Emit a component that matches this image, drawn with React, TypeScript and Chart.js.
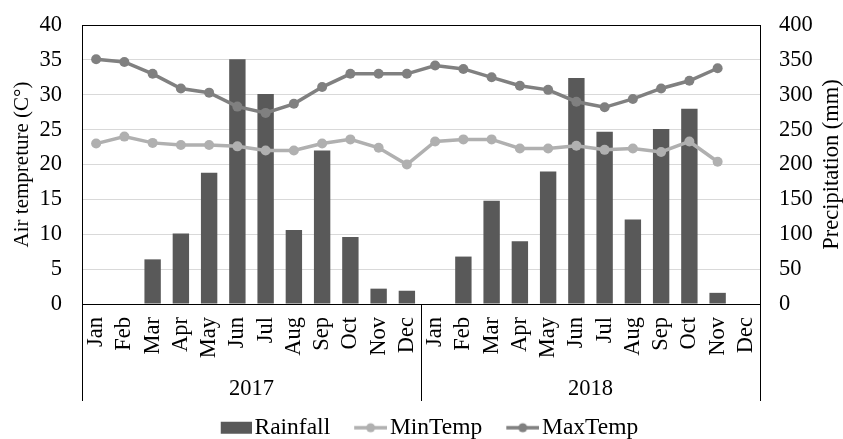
import React, { useEffect, useRef } from "react";
import { Chart, registerables } from "chart.js";

Chart.register(...registerables);

const months = ["Jan", "Feb", "Mar", "Apr", "May", "Jun", "Jul", "Aug", "Sep", "Oct", "Nov", "Dec"];
const years = ["2017", "2018"];
const categories = [...months, ...months];

const rainfall = [0, 0, 64, 101, 188, 351, 301, 106, 220, 96, 22, 19, 0, 68, 148, 90, 190, 324, 247, 121, 251, 280, 16, null];
const minTemp = [23, 24, 23.1, 22.8, 22.8, 22.6, 22, 22, 23, 23.6, 22.4, 20, 23.3, 23.6, 23.6, 22.3, 22.3, 22.7, 22.1, 22.3, 21.8, 23.3, 20.4, null];
const maxTemp = [35.1, 34.7, 33, 30.9, 30.3, 28.3, 27.4, 28.7, 31.1, 33, 33, 33, 34.2, 33.7, 32.5, 31.3, 30.7, 29, 28.2, 29.4, 30.9, 32, 33.8, null];

const tempTicks = { min: 0, max: 40, step: 5 };
const rainTicks = { min: 0, max: 400, step: 50 };

const BAR = "#595959";
const MIN_C = "#b0b0b0";
const MAX_C = "#808080";
const FONT = "'Liberation Serif', 'Times New Roman', serif";

const LEG_BOX = 48;

function makeMarker(kind: "bar" | "line", color: string): HTMLCanvasElement {
  const W = LEG_BOX + 18;
  const H = 16;
  const c = document.createElement("canvas");
  c.width = W;
  c.height = H;
  const ctx = c.getContext("2d")!;
  const end = W;
  if (kind === "bar") {
    ctx.fillStyle = color;
    ctx.fillRect(end - 31, 2, 31, 12);
  } else {
    ctx.strokeStyle = color;
    ctx.lineWidth = 3.5;
    ctx.beginPath();
    ctx.moveTo(end - 33, H / 2);
    ctx.lineTo(end, H / 2);
    ctx.stroke();
    ctx.fillStyle = color;
    ctx.beginPath();
    ctx.arc(end - 16.5, H / 2, 4.5, 0, Math.PI * 2);
    ctx.fill();
  }
  return c;
}

const decorPlugin = {
  id: "decor",
  afterLayout(chart: any) {
    if (chart.legend) {
      chart.legend.left -= 5;
      chart.legend.right -= 5;
    }
  },
  afterDraw(chart: any) {
    const { ctx, chartArea } = chart;
    const x = chart.scales.x;
    ctx.save();
    // plot box
    ctx.strokeStyle = "#000";
    ctx.lineWidth = 1;
    ctx.strokeRect(
      Math.round(chartArea.left) + 0.5,
      Math.round(chartArea.top) + 0.5,
      Math.round(chartArea.right - chartArea.left),
      Math.round(chartArea.bottom - chartArea.top)
    );
    // year separators
    const sepBottom = 401;
    const mid = (x.getPixelForValue(11) + x.getPixelForValue(12)) / 2;
    const seps = [chartArea.left, mid, chartArea.right];
    ctx.beginPath();
    seps.forEach((sx: number) => {
      const px = Math.round(sx) + 0.5;
      ctx.moveTo(px, chartArea.bottom);
      ctx.lineTo(px, sepBottom);
    });
    ctx.stroke();
    // year labels
    ctx.fillStyle = "#000";
    ctx.font = `22.5px ${FONT}`;
    ctx.textAlign = "center";
    ctx.textBaseline = "middle";
    ctx.fillText(years[0], (seps[0] + seps[1]) / 2, 389);
    ctx.fillText(years[1], (seps[1] + seps[2]) / 2, 389);
    // right axis title (reads bottom to top)
    ctx.translate(832, (chartArea.top + chartArea.bottom) / 2);
    ctx.rotate(-Math.PI / 2);
    ctx.fillText("Precipitation (mm)", 0, 0);
    ctx.restore();
  },
};

export default function App() {
  const ref = useRef<HTMLCanvasElement | null>(null);

  useEffect(() => {
    if (!ref.current) return;
    const markers = [
      makeMarker("bar", BAR),
      makeMarker("line", MIN_C),
      makeMarker("line", MAX_C),
    ];
    const chart = new Chart(ref.current, {
      type: "bar",
      data: {
        labels: categories,
        datasets: [
          {
            type: "bar",
            label: "Rainfall",
            data: rainfall,
            backgroundColor: BAR,
            yAxisID: "y2",
            order: 2,
            categoryPercentage: 1,
            barPercentage: 0.58,
          },
          {
            type: "line",
            label: "MinTemp",
            data: minTemp,
            borderColor: MIN_C,
            backgroundColor: MIN_C,
            borderWidth: 3.5,
            pointRadius: 5,
            pointBackgroundColor: MIN_C,
            pointBorderWidth: 0,
            yAxisID: "y",
            order: 1,
          },
          {
            type: "line",
            label: "MaxTemp",
            data: maxTemp,
            borderColor: MAX_C,
            backgroundColor: MAX_C,
            borderWidth: 3.5,
            pointRadius: 5,
            pointBackgroundColor: MAX_C,
            pointBorderWidth: 0,
            yAxisID: "y",
            order: 0,
          },
        ] as any,
      },
      options: {
        responsive: false,
        animation: false,
        devicePixelRatio: 1,
        layout: { padding: { top: 25, left: 0, right: 0, bottom: -10.5 } },
        plugins: {
          tooltip: { enabled: false },
          legend: {
            position: "bottom",
            labels: {
              usePointStyle: true,
              pointStyleWidth: LEG_BOX,
              padding: 0,
              color: "#000",
              font: { family: FONT, size: 23.5 },
              sort: (a: any, b: any) => a.datasetIndex - b.datasetIndex,
              generateLabels: (chart: any) =>
                chart.data.datasets.map((ds: any, i: number) => ({
                  text: ds.label,
                  datasetIndex: i,
                  pointStyle: markers[i],
                  fillStyle: "transparent",
                  strokeStyle: "transparent",
                  lineWidth: 0,
                  hidden: false,
                  fontColor: "#000",
                })),
            },
          },
        },
        scales: {
          x: {
            type: "category",
            grid: { display: false, drawTicks: false },
            border: { display: false },
            ticks: {
              autoSkip: false,
              minRotation: 90,
              maxRotation: 90,
              padding: 13,
              color: "#000",
              font: { family: FONT, size: 22.5 },
            },
            afterFit: (s: any) => {
              s.height = 112;
            },
          },
          y: {
            position: "left",
            min: tempTicks.min,
            max: tempTicks.max,
            grid: {
              color: "#d9d9d9",
              lineWidth: 1,
              drawTicks: true,
              tickLength: 20,
              tickColor: "rgba(0,0,0,0)",
            },
            border: { display: false },
            ticks: {
              stepSize: tempTicks.step,
              padding: 0,
              color: "#000",
              font: { family: FONT, size: 22.5 },
            },
            title: {
              display: true,
              text: "Air tempreture (C°)",
              color: "#000",
              font: { family: FONT, size: 21 },
              padding: { top: 10, bottom: 0 },
            },
            afterFit: (s: any) => {
              s.width = 82;
            },
          },
          y2: {
            position: "right",
            min: rainTicks.min,
            max: rainTicks.max,
            grid: {
              drawOnChartArea: false,
              drawTicks: true,
              tickLength: 19,
              tickColor: "rgba(0,0,0,0)",
            },
            border: { display: false },
            ticks: {
              stepSize: rainTicks.step,
              padding: 0,
              color: "#000",
              font: { family: FONT, size: 22.5 },
            },
            afterFit: (s: any) => {
              s.width = 83;
            },
          },
        },
      } as any,
      plugins: [decorPlugin],
    });
    return () => chart.destroy();
  }, []);

  return (
    <div style={{ position: "absolute", left: 0, top: 0, width: 843, height: 439 }}>
      <canvas ref={ref} width={843} height={439} />
    </div>
  );
}
